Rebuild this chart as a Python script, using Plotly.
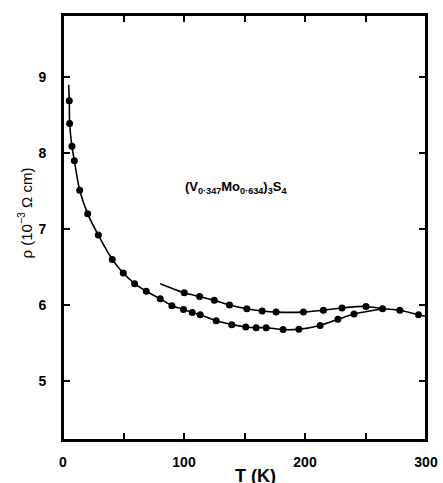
import plotly.graph_objects as go

# Lower curve (markers)
lower_T = [5.2, 5.5, 7.4, 9.4, 13.8, 20.4, 29.2, 40.7, 49.8, 59.2, 68.8, 80.4, 90.0, 99.6,
           106.8, 113.4, 126.6, 139.5, 151.0, 159.6, 167.9, 181.9, 194.9, 212.5, 227.2, 240.5]
lower_rho = [8.69, 8.39, 8.09, 7.90, 7.51, 7.20, 6.92, 6.60, 6.42, 6.28, 6.18, 6.08, 5.99, 5.94,
             5.90, 5.87, 5.79, 5.74, 5.71, 5.70, 5.70, 5.675, 5.68, 5.73, 5.81, 5.88]
# Lower curve line end points (no markers)
lower_line_start = (4.7, 8.90)
lower_line_join = (264.1, 5.95)

# Upper curve (markers)
upper_T = [100.2, 112.9, 125.0, 137.6, 151.9, 164.6, 176.1, 198.7, 215.2, 230.6, 250.4, 264.1, 278.4, 293.8]
upper_rho = [6.16, 6.11, 6.06, 6.00, 5.95, 5.92, 5.905, 5.905, 5.93, 5.96, 5.98, 5.95, 5.93, 5.87]
upper_line_start = (80.4, 6.28)
upper_line_end = (300.0, 5.85)

x_tickvals = [0, 50, 100, 150, 200, 250, 300]
x_ticktext = ["0", "", "100", "", "200", "", "300"]
y_tickvals = [5, 6, 7, 8, 9]
y_ticktext = ["5", "6", "7", "8", "9"]

FONT = "Liberation Sans, Arial, sans-serif"

fig = go.Figure()

lw = 1.6
fig.add_trace(go.Scatter(
    x=[lower_line_start[0]] + lower_T + [lower_line_join[0]],
    y=[lower_line_start[1]] + lower_rho + [lower_line_join[1]],
    mode="lines", line=dict(color="black", width=lw, shape="spline", smoothing=0.8),
    hoverinfo="skip", showlegend=False))
fig.add_trace(go.Scatter(
    x=[upper_line_start[0]] + upper_T + [upper_line_end[0]],
    y=[upper_line_start[1]] + upper_rho + [upper_line_end[1]],
    mode="lines", line=dict(color="black", width=lw, shape="spline", smoothing=0.8),
    hoverinfo="skip", showlegend=False))
fig.add_trace(go.Scatter(x=lower_T, y=lower_rho, mode="markers",
                         marker=dict(color="black", size=7), showlegend=False))
fig.add_trace(go.Scatter(x=upper_T, y=upper_rho, mode="markers",
                         marker=dict(color="black", size=7), showlegend=False))

fig.add_annotation(x=143, y=7.55, xref="x", yref="y",
                   text="<b>(V<sub>0·347</sub>Mo<sub>0·634</sub>)<sub>3</sub>S<sub>4</sub></b>",
                   showarrow=False, font=dict(family=FONT, size=13, color="black"))

# axis titles
fig.add_annotation(x=0.529, y=-0.085, xref="paper", yref="paper", xanchor="center", yanchor="middle",
                   text="<b>T (K)</b>", showarrow=False, font=dict(family=FONT, size=18, color="black"))
fig.add_annotation(x=-0.105, y=0.535, xref="paper", yref="paper", xanchor="center", yanchor="middle",
                   text="ρ (10<sup>−3</sup> Ω cm)", textangle=-90, showarrow=False,
                   font=dict(family=FONT, size=15, color="black"))

# plot frame
fig.add_shape(type="rect", xref="paper", yref="paper", x0=0, y0=0, x1=1, y1=1,
              line=dict(color="black", width=2), layer="above")

axis_common = dict(showgrid=False, zeroline=False, showline=True, linecolor="black", linewidth=2,
                   mirror="ticks", ticks="inside", ticklen=7, tickwidth=2, tickcolor="black",
                   automargin=False)

fig.update_xaxes(range=[0, 300], tickvals=x_tickvals,
                 ticktext=["<b>%s</b>" % t if t else "" for t in x_ticktext],
                 tickfont=dict(family=FONT, size=14, color="black"), ticklabelstandoff=8,
                 **axis_common)
fig.update_yaxes(range=[4.22, 9.82], tickvals=y_tickvals,
                 ticktext=["<b>%s</b>" % t for t in y_ticktext],
                 tickfont=dict(family=FONT, size=14, color="black"), ticklabelstandoff=12,
                 **axis_common)

fig.update_layout(width=443, height=483, margin=dict(l=63, r=17, t=15, b=43),
                  plot_bgcolor="white", paper_bgcolor="white")

fig.write_html("out.html", config={"displayModeBar": False},
               post_script="document.body.style.margin='0';document.body.style.overflow='hidden';")
